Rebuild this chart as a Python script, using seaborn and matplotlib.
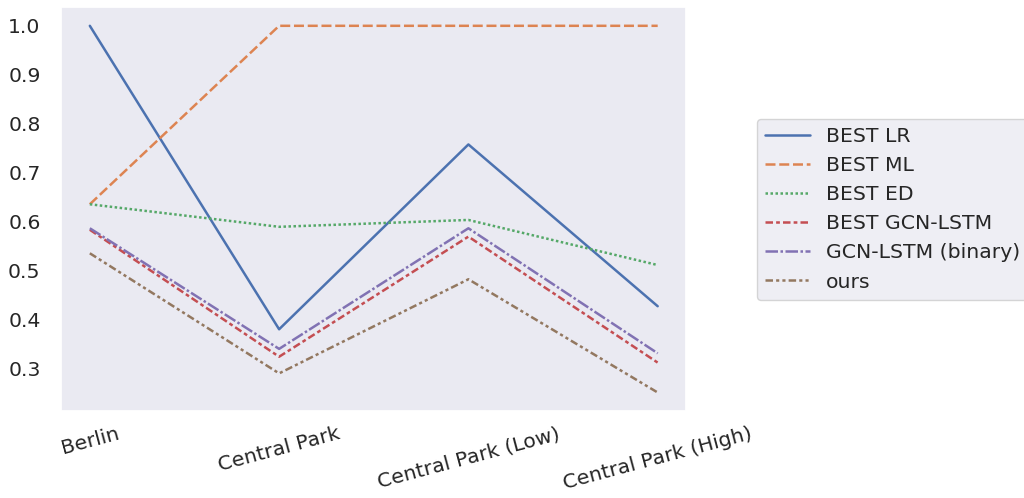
import pandas as pd
import numpy as np
import matplotlib
matplotlib.use("Agg")
import matplotlib.pyplot as plt
import seaborn as sns

datasets = ["Berlin", "Central Park", "Central Park (Low)", "Central Park (High)"]

best_lr = [1.0, 0.381, 0.758, 0.428]
best_ml = [0.636, 1.0, 1.0, 1.0]
best_ed = [0.636, 0.590, 0.604, 0.512]
best_gcn_lstm = [0.584, 0.325, 0.570, 0.313]
gcn_lstm_binary = [0.587, 0.341, 0.587, 0.332]
ours = [0.536, 0.291, 0.483, 0.252]

df = pd.DataFrame({
    "BEST LR": best_lr,
    "BEST ML": best_ml,
    "BEST ED": best_ed,
    "BEST GCN-LSTM": best_gcn_lstm,
    "GCN-LSTM (binary)": gcn_lstm_binary,
    "ours": ours,
}, index=datasets)

sns.set_theme(style="dark", font_scale=1.33)

fig, ax = plt.subplots(figsize=(10.24, 4.98), dpi=100)
sns.lineplot(data=df, ax=ax, linewidth=1.8)

ax.set_yticks([0.3, 0.4, 0.5, 0.6, 0.7, 0.8, 0.9, 1.0])
ax.tick_params(axis="y", pad=9)
plt.xticks(rotation=15)
ax.legend(loc="center left", bbox_to_anchor=(1.097, 0.5), handlelength=2.2)

plt.subplots_adjust(left=0.06, right=0.67, top=0.985, bottom=0.175)
plt.savefig("out.png")
